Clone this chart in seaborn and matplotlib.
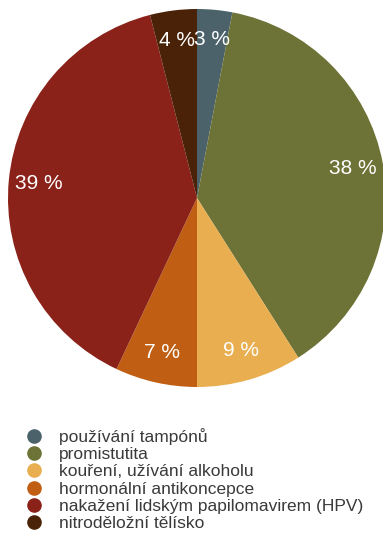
import matplotlib
matplotlib.use("Agg")
import matplotlib.pyplot as plt
from matplotlib.lines import Line2D
import seaborn as sns

categories = [
    "používání tampónů",
    "promistutita",
    "kouření, užívání alkoholu",
    "hormonální antikoncepce",
    "nakažení lidským papilomavirem (HPV)",
    "nitroděložní tělísko",
]
shares = [3, 38, 9, 7, 39, 4]
colors = ["#4b626a", "#6d7236", "#e9ae50", "#c05f13", "#8a2219", "#4a2208"]

sns.set_theme(style="white")
plt.rcParams["font.family"] = ["Liberation Sans", "DejaVu Sans"]

W, H = 383, 548
fig = plt.figure(figsize=(W / 100, H / 100), dpi=100)
fig.patch.set_facecolor("white")

cx, cy, r = 197, 198, 189
ax = fig.add_axes([(cx - r) / W, 1 - (cy + r) / H, 2 * r / W, 2 * r / H])

wedges, texts, autotexts = ax.pie(
    shares,
    colors=colors,
    startangle=90,
    counterclock=False,
    radius=1,
    autopct=lambda p: f"{p:.0f} %",
    pctdistance=0.84,
    textprops=dict(color="white", fontsize=15),
    wedgeprops=dict(linewidth=0),
)
ax.set_xlim(-1, 1)
ax.set_ylim(-1, 1)
ax.set_aspect("equal")
ax.axis("off")
for w in wedges:
    w.set_clip_on(False)

handles = [
    Line2D([], [], marker="o", linestyle="none", markersize=9.5,
           markerfacecolor=c, markeredgecolor=c)
    for c in colors
]
leg = fig.legend(
    handles, categories,
    loc="upper left",
    bbox_to_anchor=(24 / W, 1 - 428 / H),
    frameon=False,
    fontsize=12.5,
    labelspacing=0.12,
    handletextpad=0.8,
    handlelength=1.2,
    borderaxespad=0,
    borderpad=0,
)
for t in leg.get_texts():
    t.set_color("#3a3a3a")

fig.savefig("out.png", dpi=100, facecolor="white")
